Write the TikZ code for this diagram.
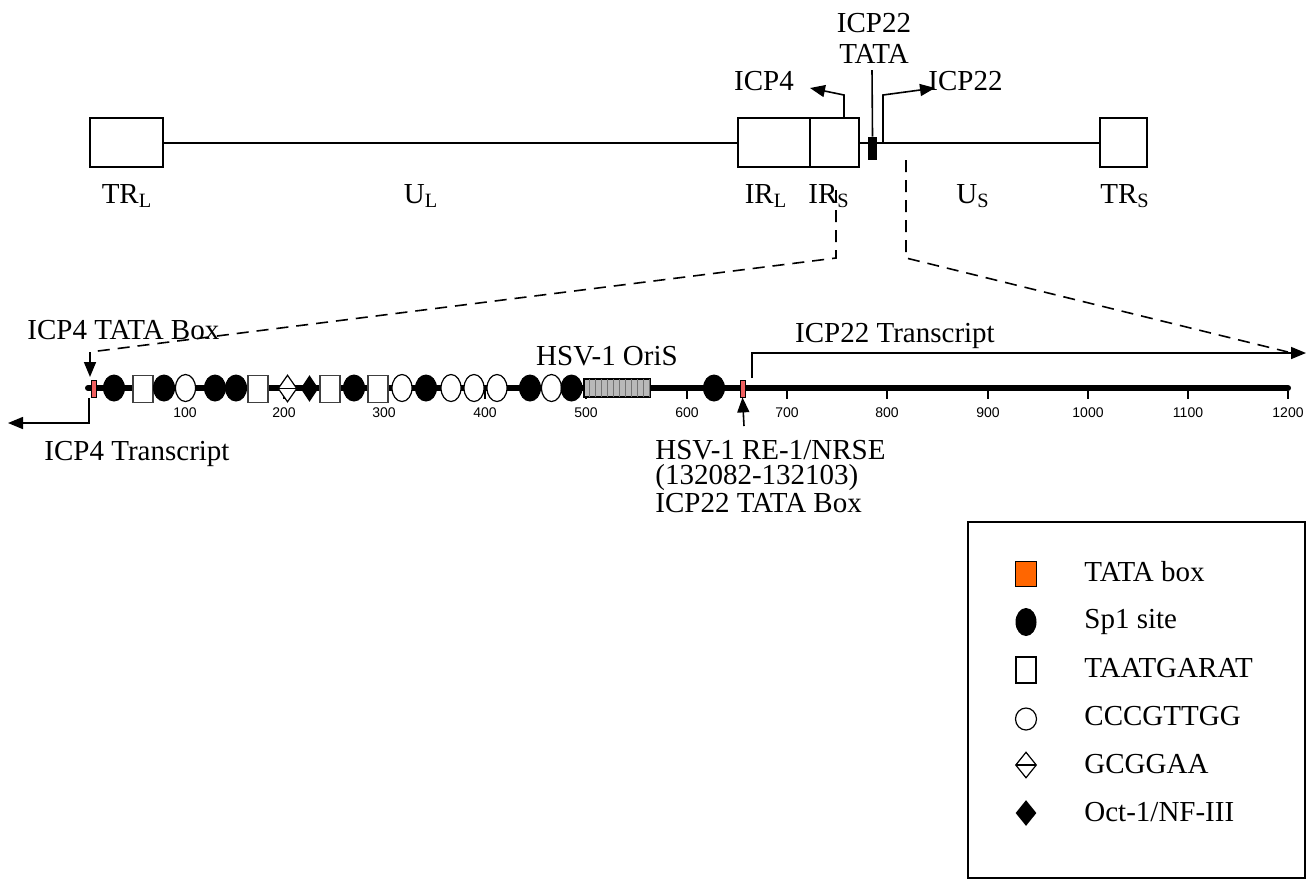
\documentclass[tikz,border=0pt]{standalone}
\usepackage{fontspec}
\setmainfont{Liberation Serif}
\setsansfont{Liberation Sans}
\usetikzlibrary{shapes.geometric,patterns,arrows.meta}

\definecolor{rossotata}{HTML}{F06060}
\definecolor{arancio}{HTML}{FF6600}

\tikzset{
  testo/.style={font=\fontsize{14.5}{12.5}\selectfont, inner sep=0pt},
  scala/.style={font=\sffamily\fontsize{7}{8}\selectfont, inner sep=0pt, anchor=base},
  regione/.style={draw, line width=1pt, fill=white, minimum height=24.5pt, inner sep=0pt},
  sp/.style={ellipse, fill=black, minimum width=11pt, minimum height=13.5pt, inner sep=0pt},
  ccc/.style={ellipse, draw, fill=white, line width=0.6pt, minimum width=10pt, minimum height=13.5pt, inner sep=0pt},
  taat/.style={draw=black!75, fill=white, line width=0.8pt, minimum width=10pt, minimum height=13.5pt, inner sep=0pt},
  gcg/.style={diamond, draw, fill=white, line width=0.6pt, minimum width=9.5pt, minimum height=13.5pt, inner sep=0pt,
    path picture={\draw[line width=0.6pt] (path picture bounding box.west) -- (path picture bounding box.east);}},
  oct/.style={diamond, fill=black, minimum width=9pt, minimum height=13.5pt, inner sep=0pt},
  tata/.style={draw, fill=rossotata, line width=0.4pt, minimum width=2.5pt, minimum height=8.5pt, inner sep=0pt},
  freccia/.style={-{Triangle[length=7.5pt,width=6pt]}, line width=0.8pt},
  tratteggio/.style={dash pattern=on 6pt off 4pt, line width=0.8pt}
}

\begin{document}
\begin{tikzpicture}[x=0.5pt, y=-0.5pt]
    \useasboundingbox (0,0) rectangle (1315,880);

    % Genoma
    \node[regione, minimum width=36.5pt] (TRL) at (126.5,142.5) {};
    \node[regione, minimum width=36pt] (IRL) at (774,142.5) {};
    \node[regione, minimum width=24.5pt] (IRS) at (834.5,142.5) {};
    \node[regione, minimum width=23.5pt] (TRS) at (1123.5,142.5) {};
    \draw[line width=1pt] (TRL.east) -- (IRL.west);
    \draw[line width=1pt] (IRS.east) -- (TRS.west);
    \node[fill=black, minimum width=4.5pt, minimum height=11.5pt, inner sep=0pt] (box22) at (872.5,148.5) {};

    \node[testo, anchor=base] (lTRL) at (127,203) {TR\textsubscript{L}};
    \node[testo, anchor=base] (lUL) at (421,203) {U\textsubscript{L}};
    \node[testo, anchor=base] (lIRL) at (766,203) {IR\textsubscript{L}};
    \node[testo, anchor=base] (lIRS) at (829,203) {IR\textsubscript{S}};
    \node[testo, anchor=base] (lUS) at (973,203) {U\textsubscript{S}};
    \node[testo, anchor=base] (lTRS) at (1125,203) {TR\textsubscript{S}};

    \node[testo, font=\fontsize{14.5}{15.5}\selectfont, align=center, anchor=base] (lTATA) at (874,63) {ICP22\\TATA};
    \node[testo, anchor=base] (lICP4) at (764,90) {ICP4};
    \node[testo, anchor=base west] (lICP22) at (928,90) {ICP22};

    % Frecce in alto
    \coordinate (c4) at (844,95);
    \coordinate (c22) at (883,95);
    \draw[line width=0.8pt] (box22.north) -- (872,70);
    \draw[freccia] (IRS.north -| c4) -- (c4) -- (810,88);
    \draw[freccia] (c22 |- IRS.west) -- (c22) -- (935,88);

    % Linee tratteggiate
    \coordinate (sx1) at (836,190);
    \coordinate (sx2) at (836,258);
    \coordinate (dx1) at (906,160);
    \coordinate (dx2) at (906,258);
    \coordinate (a4) at (90,352);
    \coordinate (fine) at (1288,352);
    \draw[tratteggio] (sx1) -- (sx2) -- (a4);
    \draw[tratteggio] (dx1) -- (dx2) -- (fine);

    % Sequenza
    \draw[line width=3pt, line cap=round] (88,388) -- (1288,388);
    \draw[line width=0.6pt] (185,391) -- (185,399);
    \draw[line width=0.6pt] (284,391) -- (284,399);
    \draw[line width=0.6pt] (384,391) -- (384,399);
    \draw[line width=0.6pt] (485,391) -- (485,399);
    \draw[line width=0.6pt] (586,391) -- (586,399);
    \draw[line width=0.6pt] (687,391) -- (687,399);
    \draw[line width=0.6pt] (787,391) -- (787,399);
    \draw[line width=0.6pt] (887,391) -- (887,399);
    \draw[line width=0.6pt] (988,391) -- (988,399);
    \draw[line width=0.6pt] (1088,391) -- (1088,399);
    \draw[line width=0.6pt] (1188,391) -- (1188,399);
    \draw[line width=0.6pt] (1288,391) -- (1288,399);
    \node[scala] (t100) at (185,417) {100};
    \node[scala] (t200) at (284,417) {200};
    \node[scala] (t300) at (384,417) {300};
    \node[scala] (t400) at (485,417) {400};
    \node[scala] (t500) at (586,417) {500};
    \node[scala] (t600) at (687,417) {600};
    \node[scala] (t700) at (787,417) {700};
    \node[scala] (t800) at (887,417) {800};
    \node[scala] (t900) at (988,417) {900};
    \node[scala] (t1000) at (1088,417) {1000};
    \node[scala] (t1100) at (1188,417) {1100};
    \node[scala] (t1200) at (1288,417) {1200};

    \node[tata] (tata4) at (94,388.5) {};
    \node[sp] (e1) at (114,388) {};
    \node[taat] (q1) at (143,389) {};
    \node[sp] (e2) at (164,388) {};
    \node[ccc] (o1) at (185.5,388) {};
    \node[sp] (e3) at (215,388) {};
    \node[sp] (e4) at (236,388) {};
    \node[taat] (q2) at (258,389) {};
    \node[gcg] (d1) at (287.5,388.5) {};
    \node[oct] (d2) at (309.5,388.5) {};
    \node[taat] (q3) at (330,389) {};
    \node[sp] (e5) at (354,388) {};
    \node[taat] (q4) at (378,389) {};
    \node[ccc] (o2) at (402,388) {};
    \node[sp] (e6) at (426,388) {};
    \node[ccc] (o3) at (451,388) {};
    \node[ccc] (o4) at (474,388) {};
    \node[ccc] (o5) at (497,388) {};
    \node[sp] (e7) at (530,388) {};
    \node[ccc] (o6) at (551.5,388) {};
    \node[sp] (e8) at (571.5,388) {};
    \node[draw, line width=0.6pt, fill=gray!55, minimum width=33pt, minimum height=9pt, inner sep=0pt] (oris) at (617,388) {};
    \fill[pattern=vertical lines, pattern color=black!55] (oris.south west) rectangle (oris.north east);
    \draw[line width=0.6pt] (oris.south west) rectangle (oris.north east);
    \node[sp] (e9) at (714,388) {};
    \node[tata] (tata22) at (742.5,388.5) {};

    % Trascritti
    \coordinate (p4) at (89,423);
    \coordinate (f4) at (8,423);
    \coordinate (p22) at (752,353);
    \coordinate (f22) at (1306,353);
    \draw[freccia] (a4) -- (90,377);
    \draw[freccia] (89,398) -- (p4) -- (f4);
    \draw[freccia] (752,378) -- (p22) -- (f22);
    \draw[freccia] (744,426) -- (tata22.south);

    \node[testo, anchor=base west] (l4tata) at (27,339) {ICP4 TATA Box};
    \node[testo, anchor=base] (l4tr) at (137,460) {ICP4 Transcript};
    \node[testo, anchor=base] (loris) at (607,365) {HSV-1 OriS};
    \node[testo, anchor=base] (l22tr) at (895,342) {ICP22 Transcript};
    \node[testo, align=left, anchor=base west] (lre1) at (655,512) {HSV-1 RE-1/NRSE\\ (132082-132103)\\ICP22 TATA Box};

    % Legenda
    \draw[line width=1pt] (968,522) rectangle (1305,878);
    \node[draw, fill=arancio, line width=0.8pt, minimum width=10.5pt, minimum height=12.5pt, inner sep=0pt] (k1) at (1026,574) {};
    \node[sp, minimum width=10.5pt, minimum height=14pt] (k2) at (1026,622) {};
    \node[taat, draw=black, minimum width=10pt, minimum height=13pt] (k3) at (1026,670) {};
    \node[ccc, minimum width=10.5pt, minimum height=11pt] (k4) at (1026,719) {};
    \node[gcg, minimum width=10.5pt, minimum height=13pt] (k5) at (1026,765) {};
    \node[oct, minimum width=10.5pt, minimum height=13pt] (k6) at (1026,813) {};
    \node[testo, anchor=base west] (n1) at (1084,581) {TATA box};
    \node[testo, anchor=base west] (n2) at (1084,628) {Sp1 site};
    \node[testo, anchor=base west] (n3) at (1084,677) {TAATGARAT};
    \node[testo, anchor=base west] (n4) at (1084,725) {CCCGTTGG};
    \node[testo, anchor=base west] (n5) at (1084,773) {GCGGAA};
    \node[testo, anchor=base west] (n6) at (1084,821) {Oct-1/NF-III};
\end{tikzpicture}
\end{document}
